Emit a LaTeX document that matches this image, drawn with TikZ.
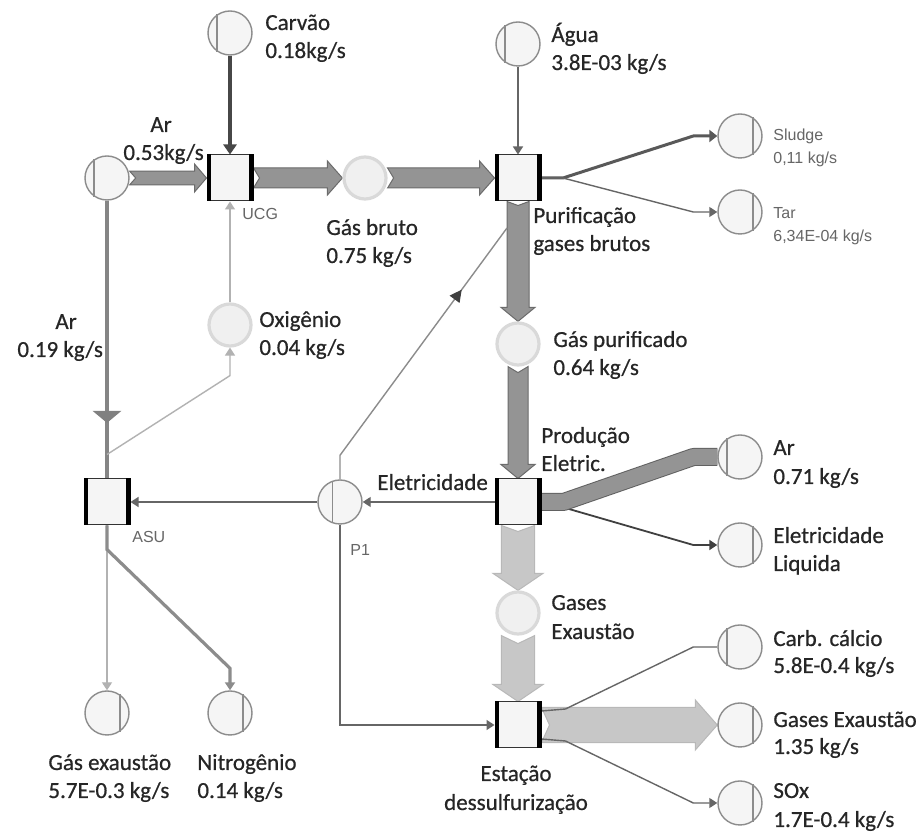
\documentclass[tikz,border=0pt]{standalone}
\usepackage{fontspec}
\setmainfont{Carlito}
\newfontfamily\lblfamily{Carlito}[FakeBold=0.6]
\newfontfamily\tagfamily{Liberation Sans}
\usetikzlibrary{arrows.meta,calc,decorations.markings}
\pgfdeclarelayer{bg}
\pgfsetlayers{bg,main}

% horizontal block arrow: style, from, to, half shaft, half head, head length, tail notch
\newcommand\hblock[7]{%
  \draw[#1] let \p1=(#2), \p2=(#3) in
    (\x1,\y1+#4) -- (\x2-#6,\y1+#4) -- (\x2-#6,\y1+#5) -- (\x2,\y1)
    -- (\x2-#6,\y1-#5) -- (\x2-#6,\y1-#4) -- (\x1,\y1-#4) -- (\x1+#7,\y1) -- cycle;}
% downward block arrow: same arguments
\newcommand\vblock[7]{%
  \draw[#1] let \p1=(#2), \p2=(#3) in
    (\x1-#4,\y1) -- (\x1-#4,\y2+#6) -- (\x1-#5,\y2+#6) -- (\x1,\y2)
    -- (\x1+#5,\y2+#6) -- (\x1+#4,\y2+#6) -- (\x1+#4,\y1) -- (\x1,\y1-#7) -- cycle;}
% black side bars of a process box
\newcommand\procbars[1]{%
  \fill[black] (#1.north west) rectangle ([xshift=2.4pt]#1.south west);
  \fill[black] ([xshift=-2.4pt]#1.north east) rectangle (#1.south east);}

\begin{document}
\begin{tikzpicture}[x=0.5pt,y=-0.5pt,
  proc/.style={rectangle,draw=black!80,fill=black!4,line width=0.5pt,
    minimum width=23pt,minimum height=23pt,inner sep=0pt},
  flow/.style={circle,draw=black!45,fill=black!4,line width=0.7pt,
    minimum size=22pt,inner sep=0pt},
  faded/.style={circle,draw=black!15,fill=black!6,line width=1.6pt,
    minimum size=21pt,inner sep=0pt},
  chord/.style={draw=black!45,line width=0.6pt},
  lbl/.style={font=\lblfamily\fontsize{11.5}{13}\selectfont,text=black!85,anchor=base west,inner sep=0pt},
  tag/.style={font=\tagfamily\fontsize{8}{9}\selectfont,text=black!60,anchor=base west,inner sep=0pt},
  darkblock/.style={fill=black!42,draw=black!58,line width=0.5pt},
  lightblock/.style={fill=black!22,draw=black!28,line width=0.5pt},
  tip/.style={-{Triangle[length=4pt,width=5pt]}},
  thinflow/.style={draw=black!60,line width=0.7pt,tip},
  paleflow/.style={draw=black!30,line width=0.7pt,tip},
]
\useasboundingbox (0,0) rectangle (918,839);

% processes
\node[proc] (UCG)  at (230,178) {};
\node[proc] (PUR)  at (518,178) {};
\node[proc] (PROD) at (518,502) {};
\node[proc] (EST)  at (518,725) {};
\node[proc] (ASU)  at (107,502) {};
\foreach \p in {UCG,PUR,PROD,EST,ASU} {\procbars{\p}}

% flows
\node[flow]  (carvao)   at (230,33)  {};
\node[flow]  (arA)      at (107,178) {};
\node[faded] (gasbruto) at (365,178) {};
\node[flow]  (agua)     at (518,44)  {};
\node[flow]  (sludge)   at (740,136) {};
\node[flow]  (tar)      at (740,212) {};
\node[faded] (oxig)     at (230,325) {};
\node[faded] (gaspur)   at (518,344) {};
\node[flow]  (arB)      at (740,457) {};
\node[flow]  (eletliq)  at (740,545) {};
\node[flow]  (p1)       at (340,502) {};
\node[faded] (gasesx)   at (518,613) {};
\node[flow]  (carb)     at (740,647) {};
\node[flow]  (gasout)   at (740,725) {};
\node[flow]  (sox)      at (740,803) {};
\node[flow]  (gasex)    at (107,713) {};
\node[flow]  (nitro)    at (230,713) {};

% chords: left side for inputs, right side for outputs
\foreach \n in {carvao,arA,agua,arB,carb} {\draw[chord] (\n.125) -- (\n.235);}
\draw[chord] (p1.110) -- (p1.250);
\foreach \n in {sludge,tar,eletliq,gasout,sox,gasex,nitro} {\draw[chord] (\n.55) -- (\n.-55);}

\coordinate (purin) at (507,228);

\begin{pgfonlayer}{bg}
  \fill[white] (0,0) rectangle (918,839);
  % main gas line
  \hblock{darkblock}{arA.east}{UCG.west}{3.4pt}{7pt}{6pt}{3pt}
  \hblock{darkblock}{UCG.east}{gasbruto.west}{5pt}{8.5pt}{7.5pt}{3pt}
  \hblock{darkblock}{gasbruto.east}{PUR.west}{5pt}{8.5pt}{7.5pt}{3pt}
  \vblock{darkblock}{PUR.south}{gaspur.north}{5.5pt}{8.5pt}{7pt}{2pt}
  \vblock{darkblock}{gaspur.south}{PROD.north}{5pt}{8.5pt}{7pt}{3pt}
  \vblock{lightblock}{PROD.south}{gasesx.north}{8.3pt}{12.5pt}{8.5pt}{3pt}
  \vblock{lightblock}{gasesx.south}{EST.north}{8.3pt}{12.5pt}{8.5pt}{4pt}
  \hblock{lightblock}{EST.east}{gasout.west}{8.8pt}{12.5pt}{11pt}{4pt}

  % inputs on top
  \draw[draw=black!72,line width=2pt,-{Triangle[length=5pt,width=6.5pt]}] (carvao) -- (UCG);
  \draw[thinflow] (agua) -- (PUR);

  % purification outputs
  \coordinate (pj) at (563,178);
  \draw[draw=black!65,line width=1.5pt,-{Triangle[length=4pt,width=6pt]}]
    (PUR.east) -- (pj) -- ([xshift=-12pt]sludge.west) -- (sludge.west);
  \draw[thinflow] (PUR.east) -- (pj) -- ([xshift=-12pt]tar.west) -- (tar.west);

  % air to ASU, with arrow in the middle
  \draw[draw=black!48,line width=1.8pt,postaction={decorate},
    decoration={markings,mark=at position 0.8 with {\arrow[black!50]{Triangle[length=6pt,width=14pt]}}}]
    (arA.south) -- (ASU.north);

  % oxygen loop
  \draw[paleflow] ([yshift=12pt]ASU.north) -- ([yshift=-14pt]oxig.south) -- (oxig.south);
  \draw[paleflow] (oxig) -- (UCG);

  % electricity
  \draw[thinflow] (PROD.west) -- (p1.east);
  \draw[thinflow] (p1.west) -- (ASU.east);
  \draw[draw=black!45,line width=0.7pt,postaction={decorate},
    decoration={markings,mark=at position 0.75 with {\arrow[black!75]{Triangle[length=6pt,width=6pt]}}}]
    (p1.north) -- ([yshift=12pt]p1.north) -- (purin);
  \draw[thinflow] (p1.south) |- (EST.west);

  % power plant outputs
  \draw[draw=black!75,line width=0.9pt,tip]
    ([yshift=-3pt]PROD.east) -- ([xshift=12pt,yshift=-3pt]PROD.east)
    -- ([xshift=-12pt]eletliq.west) -- (eletliq.west);
  \draw[draw=black!62,double=black!42,double distance=8pt,line width=0.5pt,line join=round]
    (PROD.east) -- ([xshift=11pt]PROD.east) -- ([xshift=-12pt]arB.west) -- (arB.west);

  % desulfurisation streams
  \draw[draw=black!60,line width=0.7pt]
    ([yshift=7pt]EST.east) -- ([xshift=12pt,yshift=8pt]EST.east)
    -- ([xshift=-12pt]carb.west) -- (carb.west);
  \draw[thinflow]
    ([yshift=-7pt]EST.east) -- ([xshift=12pt,yshift=-8pt]EST.east)
    -- ([xshift=-12pt]sox.west) -- (sox.west);

  % ASU outputs
  \draw[paleflow] (ASU) -- (gasex);
  \draw[draw=black!45,line width=1.6pt,tip]
    (ASU.south) -- ([yshift=-12pt]ASU.south) -- ([yshift=11pt]nitro.north) -- (nitro.north);
\end{pgfonlayer}

% labels
\node[lbl] (tCarvao) at (265,30) {Carvão};
\node[lbl] (vCarvao) at (265,58) {0.18kg/s};
\node[lbl] (tAgua) at (551,42) {Água};
\node[lbl] (vAgua) at (551,70) {3.8E-03 kg/s};
\node[lbl] (tArA) at (150,132) {Ar};
\node[lbl] (vArA) at (123,160) {0.53kg/s};
\node[lbl] (tBruto) at (326,235) {Gás bruto};
\node[lbl] (vBruto) at (326,263) {0.75 kg/s};
\node[lbl] (tPur1) at (533,223) {Purificação};
\node[lbl] (tPur2) at (533,251) {gases brutos};
\node[lbl] (tOxig) at (259,327) {Oxigênio};
\node[lbl] (vOxig) at (259,355) {0.04 kg/s};
\node[lbl] (tArAsu) at (55,329) {Ar};
\node[lbl] (vArAsu) at (17,357) {0.19 kg/s};
\node[lbl] (tGaspur) at (553,347) {Gás purificado};
\node[lbl] (vGaspur) at (553,375) {0.64 kg/s};
\node[lbl] (tProd1) at (541,443) {Produção};
\node[lbl] (tProd2) at (541,471) {Eletric.};
\node[lbl] (tElet) at (377,490) {Eletricidade};
\node[lbl] (tArB) at (773,455) {Ar};
\node[lbl] (vArB) at (773,484) {0.71 kg/s};
\node[lbl] (tEliq1) at (773,543) {Eletricidade};
\node[lbl] (tEliq2) at (773,571) {Liquida};
\node[lbl] (tGasesx1) at (551,610) {Gases};
\node[lbl] (tGasesx2) at (551,639) {Exaustão};
\node[lbl] (tCarb) at (773,646) {Carb. cálcio};
\node[lbl] (vCarb) at (773,673) {5.8E-0.4 kg/s};
\node[lbl] (tGasout) at (773,727) {Gases Exaustão};
\node[lbl] (vGasout) at (773,754) {1.35 kg/s};
\node[lbl] (tSox) at (773,798) {SOx};
\node[lbl] (vSox) at (773,827) {1.7E-0.4 kg/s};
\node[lbl] (tGasex) at (48,770) {Gás exaustão};
\node[lbl] (vGasex) at (48,798) {5.7E-0.3 kg/s};
\node[lbl] (tNitro) at (197,770) {Nitrogênio};
\node[lbl] (vNitro) at (197,798) {0.14 kg/s};
\node[lbl,anchor=base] (tEst1) at (516,781) {Estação};
\node[lbl,anchor=base] (tEst2) at (516,810) {dessulfurização};

\node[tag] (gUCG) at (242,220) {UCG};
\node[tag] (gASU) at (132,543) {ASU};
\node[tag] (gP1) at (350,556) {P1};
\node[tag] (tSludge) at (773,141) {Sludge};
\node[tag] (vSludge) at (773,164) {0,11 kg/s};
\node[tag] (tTar) at (773,219) {Tar};
\node[tag] (vTar) at (773,242) {6,34E-04 kg/s};
\end{tikzpicture}
\end{document}
